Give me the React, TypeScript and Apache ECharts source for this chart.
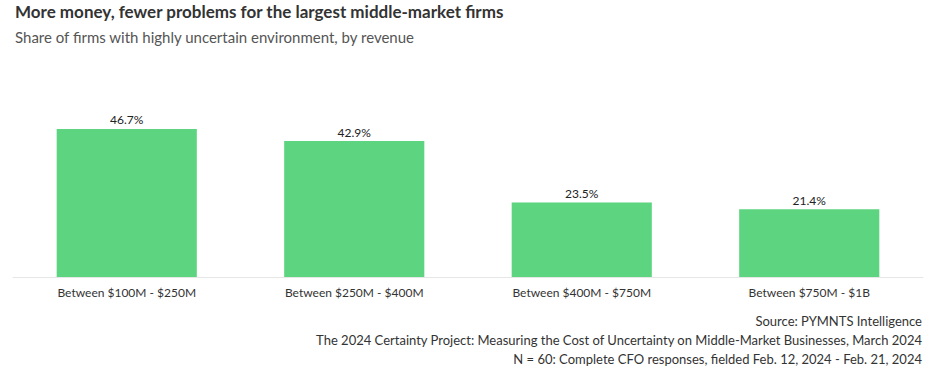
import React, { useEffect, useRef } from "react";
import * as echarts from "echarts";

const categories = ["Between $100M - $250M", "Between $250M - $400M", "Between $400M - $750M", "Between $750M - $1B"];
const values = [46.7, 42.9, 23.5, 21.4];
const titleText = "More money, fewer problems for the largest middle-market firms";
const subtitleText = "Share of firms with highly uncertain environment, by revenue";
const footerLines = [
  "Source: PYMNTS Intelligence",
  "The 2024 Certainty Project: Measuring the Cost of Uncertainty on Middle-Market Businesses, March 2024",
  "N = 60: Complete CFO responses, fielded Feb. 12, 2024 - Feb. 21, 2024",
];

export default function App() {
  const ref = useRef<HTMLDivElement>(null);
  useEffect(() => {
    if (!ref.current) return;
    const chart = echarts.init(ref.current, undefined, { renderer: "svg" });
    const font = "Lato, 'Open Sans', sans-serif";
    chart.setOption({
      animation: false,
      textStyle: { fontFamily: font },
      title: [
        {
          text: titleText,
          left: 15,
          top: 3,
          padding: 0,
          textStyle: { fontFamily: font, fontSize: 17, fontWeight: "bold", color: "#333333" },
        },
        {
          text: subtitleText,
          left: 15,
          top: 29,
          padding: 0,
          textStyle: { fontFamily: font, fontSize: 15, fontWeight: "normal", color: "#555555" },
        },
      ],
      grid: { left: 13, right: 13, top: 118.5, bottom: 101, containLabel: false },
      xAxis: {
        type: "category",
        data: categories,
        axisLine: { lineStyle: { color: "#e6e6e6" } },
        axisTick: { show: false },
        axisLabel: { color: "#333333", fontSize: 12, fontFamily: font, margin: 9 },
      },
      yAxis: {
        type: "value",
        min: 0,
        max: 50,
        show: false,
        splitLine: { show: false },
      },
      series: [
        {
          type: "bar",
          data: values,
          barWidth: "61.6%",
          itemStyle: { color: "#5dd47f" },
          label: {
            show: true,
            position: "top",
            distance: 3,
            formatter: (p: any) => p.value.toFixed(1) + "%",
            color: "#222222",
            fontSize: 12,
            fontFamily: font,
          },
        },
      ],
      graphic: footerLines.map((t, i) => ({
        type: "text",
        right: 14,
        top: 314 + i * 19,
        style: { text: t, fill: "#333333", font: `13px ${font}`, textAlign: "right" },
      })),
    });
    return () => chart.dispose();
  }, []);
  return <div ref={ref} style={{ position: "absolute", left: 0, top: 0, width: 936, height: 378 }} />;
}
